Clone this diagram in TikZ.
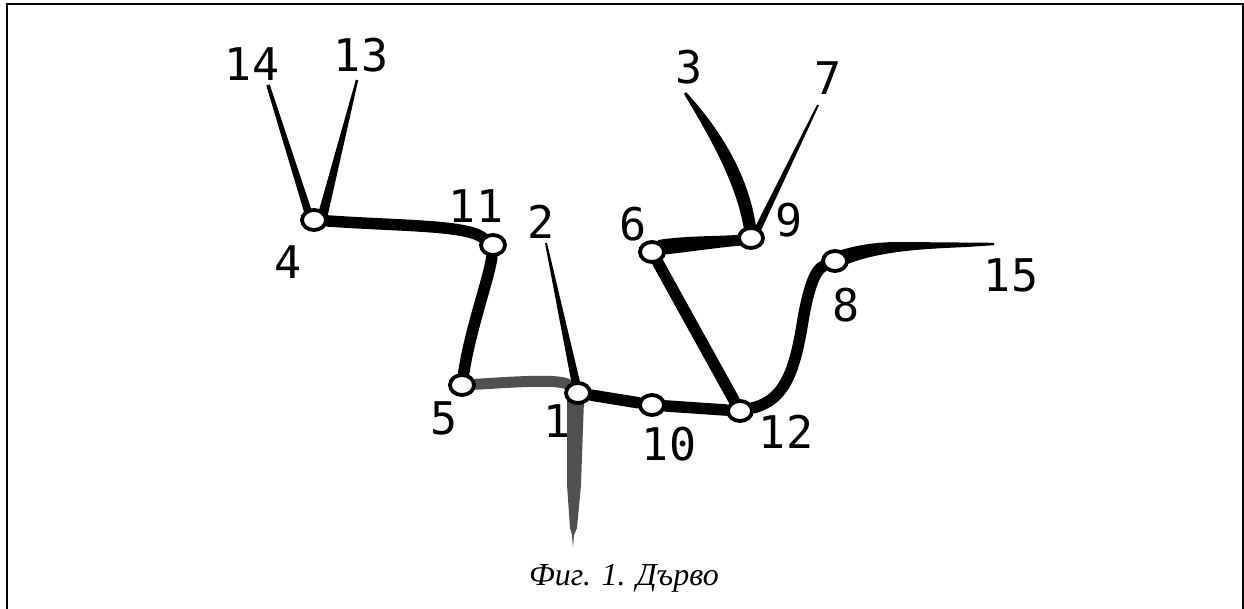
\documentclass[tikz,border=0pt]{standalone}
\usepackage{fontspec}
\newfontfamily\digitfont{DejaVu Sans Mono}
\newfontfamily\capfont{Liberation Serif}
\usetikzlibrary{calc,backgrounds,shapes.geometric}
\definecolor{edgegrey}{RGB}{80,80,80}
\tikzset{
  vtx/.style={draw=black, fill=white, ellipse, line width=3.8pt, minimum width=24pt, minimum height=20pt, inner sep=0pt},
  lbl/.style={font=\digitfont\fontsize{45}{50}\selectfont, inner sep=0pt, anchor=center},
  thickedge/.style={line width=11.5pt, line cap=round, draw=black},
  greyedge/.style={line width=11pt, line cap=round, draw=edgegrey},
  framestyle/.style={line width=2pt, draw=black}
}
\newcommand\taperline[4]{\fill ($(#1)!#3!90:(#2)$) -- ($(#2)!#4!-90:(#1)$) -- ($(#2)!#4!90:(#1)$) -- ($(#1)!#3!-90:(#2)$) -- cycle;}
\begin{document}
\begin{tikzpicture}[x=1pt,y=-1pt]
\useasboundingbox (0,0) rectangle (1244,609);
\draw[framestyle] (6.5,609) -- (6.5,4.5) -- (1242.5,4.5) -- (1242.5,609);

% vertices
\node[vtx] (n4) at (314,220) {};
\node[vtx] (n11) at (493,245) {};
\node[vtx] (n5) at (462,385) {};
\node[vtx] (n1) at (578,393) {};
\node[vtx] (n10) at (652,405) {};
\node[vtx] (n12) at (740,411) {};
\node[vtx] (n6) at (652,252) {};
\node[vtx] (n9) at (751,238) {};
\node[vtx] (n8) at (835,261) {};

% free ends
\coordinate (e14) at (268,85);
\coordinate (e13) at (357,80);
\coordinate (e2) at (546,243);
\coordinate (e3) at (685,93);
\coordinate (e7) at (818,105);
\coordinate (e15) at (994,244);
\coordinate (e1) at (573,548);
\coordinate (n4l) at ($(n4)+(-4,-2)$);
\coordinate (n4r) at ($(n4)+(8,-2)$);
\coordinate (n9r) at ($(n9)+(5,-5)$);

\begin{pgfonlayer}{background}
  % leaves of 4
  \taperline{n4l}{e14}{4pt}{1.8pt}
  \taperline{n4r}{e13}{5pt}{1.2pt}
  % main thick edges
  \draw[thickedge] (n4) .. controls (400,226) and (465,225) .. (n11);
  \draw[thickedge] (n11) .. controls (490,275) and (470,330) .. (n5);
  \draw[greyedge] (n5) .. controls (500,383) and (560,378) .. (n1);
  \taperline{n1}{e2}{4.5pt}{1pt}
  \fill[edgegrey] ($(n1)+(-11,7)$) -- ($(e1)+(-6,-63)$) -- ($(e1)+(-3,-20)$) -- ($(e1)+(-1,-13)$) -- (e1) -- ($(e1)+(1,-13)$) -- ($(e1)+(4,-20)$) -- ($(e1)+(8,-63)$) -- ($(n1)+(6,7)$) -- cycle;
  \draw[thickedge] (n1) -- (n10);
  \draw[thickedge] (n10) -- (n12);
  \draw[thickedge] (n12) -- (n6);
  \draw[thickedge] (n12) .. controls (785,400) and (795,370) .. (803,320) .. controls (808,290) and (815,270) .. (n8);
  % 6 - 9
  \fill ($(n6)+(6,-12)$) .. controls ($(n6)+(38,-17)$) and ($(n9)+(-31,-1)$) .. ($(n9)+(-3,-4)$) -- ($(n9)+(-3,7)$) .. controls ($(n9)+(-31,9)$) and ($(n6)+(38,0)$) .. ($(n6)+(8,3)$) -- cycle;
  % 9 - 3
  \fill ($(e3)+(1,-1)$) .. controls ($(e3)+(45,47)$) and ($(n9)+(1,-50)$) .. ($(n9)+(6,-4)$) -- ($(n9)+(-6,-2)$) .. controls ($(n9)+(-12,-46)$) and ($(e3)+(33,57)$) .. ($(e3)+(-1,1)$) -- cycle;
  % 9 - 7
  \taperline{n9r}{e7}{3.5pt}{1pt}
  % 8 - 15
  \fill ($(n8)+(3,-10)$) .. controls ($(n8)+(25,-17)$) and ($(n8)+(45,-19)$) .. ($(n8)+(65,-19)$) -- ($(e15)+(0,-1.2)$) -- ($(e15)+(0,1.2)$) -- ($(e15)+(-27,3)$) .. controls ($(e15)+(-74,5)$) and ($(e15)+(-114,7)$) .. ($(n8)+(10,4)$) -- cycle;
\end{pgfonlayer}

% labels
\node[lbl] (l14) at (252,64) {14};
\node[lbl] (l13) at (361,55) {13};
\node[lbl] (l11) at (476,206) {11};
\node[lbl] (l4) at (288,262) {4};
\node[lbl] (l2) at (541,222) {2};
\node[lbl] (l3) at (689,67) {3};
\node[lbl] (l7) at (828,78) {7};
\node[lbl] (l9) at (789,220) {9};
\node[lbl] (l6) at (633,224) {6};
\node[lbl] (l15) at (1011,275) {15};
\node[lbl] (l8) at (846,305) {8};
\node[lbl] (l5) at (444,418) {5};
\node[lbl] (l1) at (557,421) {1};
\node[lbl] (l10) at (669,444) {10};
\node[lbl] (l12) at (786,432) {12};

% caption
\node[font=\capfont\itshape\fontsize{32}{36}\selectfont, inner sep=0pt, anchor=base] (cap) at (624,585) {Фиг. 1. Дърво};
\end{tikzpicture}
\end{document}
